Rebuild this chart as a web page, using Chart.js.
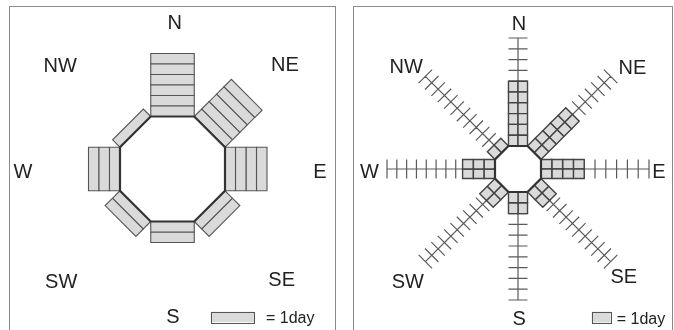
<!DOCTYPE html>
<html>
<head>
<meta charset="utf-8">
<script src="https://cdn.jsdelivr.net/npm/chart.js@4.4.1/dist/chart.umd.min.js"></script>
<style>
  html, body { margin: 0; padding: 0; background: #fff; overflow: hidden; }
  body { width: 674px; height: 330px; position: relative; }
  .frame { position: absolute; top: 6px; height: 400px; border: 1px solid #8c8c8c; box-sizing: border-box; }
  canvas { position: absolute; top: 0; }
</style>
</head>
<body>
<div class="frame" style="left:9px;width:327px"></div>
<div class="frame" style="left:353px;width:320px"></div>
<canvas id="rose1" width="337" height="330" style="left:0"></canvas>
<canvas id="rose2" width="337" height="330" style="left:337px"></canvas>
<script>
let directions = ['N', 'NE', 'E', 'SE', 'S', 'SW', 'W', 'NW'];
let bearings = [90, 45, 0, -45, -90, -135, 180, 135];
let days = [6, 5, 4, 2, 2, 2, 3, 1];
let legendText = '= 1day';

// tick marks per arm on the right hand rose
let armTicks = [10, 12, 10, 12, 10, 12, 11, 12];

let barFill = '#dadada';

let panels = [
  {
    canvas: 'rose1', cx: 172.5, cy: 169, unit: 10.5, apothem: 5, columns: 1, axes: false,
    barLine: '#555555', barWidth: 1.1,
    labelAt: [[0.2, 14.0], [10.7, 10.0], [14.05, -0.2], [10.4, -10.5], [0.05, -14.0], [-10.6, -10.7], [-14.25, -0.2], [-10.7, 9.9]],
    key: { x: 3.64, y: -13.59, textX: 8.9, textY: -14.14 }
  },
  {
    canvas: 'rose2', cx: 181, cy: 169, unit: 10.8, apothem: 2.13, columns: 2, axes: true,
    barLine: '#444444', barWidth: 1.4,
    labelAt: [[0.1, 13.5], [10.6, 9.45], [13.05, -0.2], [9.8, -9.9], [0.1, -13.8], [-10.2, -10.4], [-13.75, -0.2], [-10.35, 9.55]],
    key: { x: 6.82, y: -13.21, textX: 9.14, textY: -13.75 }
  }
];

function rot(u, v, deg) {
  let t = deg * Math.PI / 180;
  return { x: u * Math.cos(t) - v * Math.sin(t), y: u * Math.sin(t) + v * Math.cos(t) };
}

const roseText = {
  id: 'roseText',
  afterDraw(chart, args, opts) {
    const ctx = chart.ctx;
    const x = chart.scales.x, y = chart.scales.y;
    ctx.save();
    ctx.fillStyle = '#222';
    ctx.font = '20px "Liberation Sans", Arial, sans-serif';
    ctx.textAlign = 'center';
    ctx.textBaseline = 'alphabetic';
    directions.forEach((d, i) => {
      let p = opts.labelAt[i];
      ctx.fillText(d, x.getPixelForValue(p[0]), y.getPixelForValue(p[1]) + 7);
    });

    // key box: one day long, one side wide
    let k = opts.key;
    let x0 = x.getPixelForValue(k.x), x1 = x.getPixelForValue(k.x + 2 * opts.half);
    let y0 = y.getPixelForValue(k.y), y1 = y.getPixelForValue(k.y - 1);
    ctx.fillStyle = barFill;
    ctx.strokeStyle = '#555555';
    ctx.lineWidth = 1;
    ctx.fillRect(x0, y0, x1 - x0, y1 - y0);
    ctx.strokeRect(Math.round(x0) + 0.5, Math.round(y0) + 0.5, Math.round(x1 - x0), Math.round(y1 - y0));
    ctx.fillStyle = '#222';
    ctx.font = '16px "Liberation Sans", Arial, sans-serif';
    ctx.textAlign = 'left';
    ctx.fillText(legendText, x.getPixelForValue(k.textX), y.getPixelForValue(k.textY) + 6);
    ctx.restore();
  }
};

panels.forEach(pn => {
  let a = pn.apothem;
  let h = a * Math.tan(Math.PI / 8);
  let datasets = [];

  // octagon outline, drawn on top
  let oct = [];
  for (let i = 0; i <= 8; i++) oct.push(rot(a, h, bearings[i % 8]));
  datasets.push({
    data: oct, showLine: true, fill: 'shape', backgroundColor: '#ffffff',
    borderColor: '#333333', borderWidth: 2.2, pointRadius: 0, order: 0
  });

  // bars, one cell per day and column
  days.forEach((n, i) => {
    let ang = bearings[i];
    for (let k = 0; k < n; k++) {
      for (let c = 0; c < pn.columns; c++) {
        let v0 = -h + c * 2 * h / pn.columns;
        let v1 = v0 + 2 * h / pn.columns;
        let u0 = a + k, u1 = a + k + 1;
        datasets.push({
          data: [rot(u0, v0, ang), rot(u1, v0, ang), rot(u1, v1, ang), rot(u0, v1, ang), rot(u0, v0, ang)],
          showLine: true, fill: 'shape', backgroundColor: barFill,
          borderColor: pn.barLine, borderWidth: pn.barWidth, pointRadius: 0, order: 1
        });
      }
    }
  });

  // arms with tick marks
  if (pn.axes) {
    let pts = [];
    let len = 10;
    bearings.forEach((ang, i) => {
      pts.push(rot(a, 0, ang), rot(a + len, 0, ang), { x: null, y: null });
      for (let k = 0; k <= armTicks[i]; k++) {
        let u = a + k * len / armTicks[i];
        pts.push(rot(u, -h, ang), rot(u, h, ang), { x: null, y: null });
      }
    });
    datasets.push({
      data: pts, showLine: true, fill: false, spanGaps: false,
      borderColor: '#5a5a5a', borderWidth: 1.2, pointRadius: 0, order: 2
    });
  }

  let w = 337, hgt = 330;
  new Chart(document.getElementById(pn.canvas).getContext('2d'), {
    type: 'scatter',
    data: { datasets: datasets },
    plugins: [roseText],
    options: {
      responsive: false,
      animation: false,
      devicePixelRatio: 1,
      events: [],
      layout: { padding: 0 },
      elements: { line: { tension: 0, borderJoinStyle: 'miter' }, point: { radius: 0 } },
      scales: {
        x: { type: 'linear', display: false, min: -pn.cx / pn.unit, max: (w - pn.cx) / pn.unit },
        y: { type: 'linear', display: false, min: -(hgt - pn.cy) / pn.unit, max: pn.cy / pn.unit }
      },
      plugins: {
        legend: { display: false },
        tooltip: { enabled: false },
        roseText: { labelAt: pn.labelAt, key: pn.key, half: h }
      }
    }
  });
});
</script>
</body>
</html>
